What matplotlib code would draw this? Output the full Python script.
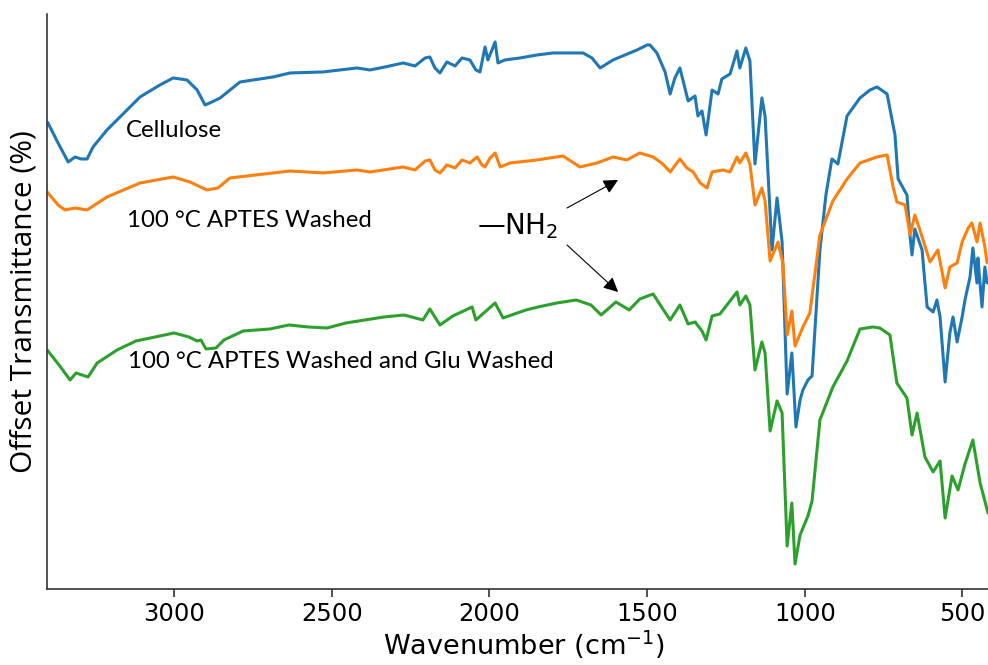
import matplotlib.pyplot as plt

# FTIR spectra (wavenumber in cm-1, offset transmittance)
cel_wn = [3400, 3368, 3336, 3314, 3295, 3276, 3257, 3213, 3108, 3045, 3003, 2959, 2927, 2902,
          2880, 2854, 2791, 2686, 2632, 2528, 2420, 2379, 2331, 2274, 2236, 2204, 2189, 2173,
          2157, 2135, 2109, 2087, 2062, 2043, 2030, 2014, 2005, 1992, 1982, 1973, 1951, 1903,
          1849, 1798, 1745, 1703, 1675, 1649, 1608, 1570, 1532, 1500, 1491, 1469, 1443, 1427,
          1412, 1396, 1370, 1348, 1339, 1326, 1313, 1294, 1275, 1263, 1237, 1215, 1206, 1187,
          1174, 1158, 1136, 1126, 1104, 1088, 1072, 1056, 1041, 1028, 1015, 1006, 990, 977,
          952, 933, 914, 895, 866, 825, 793, 771, 739, 714, 704, 676, 666, 660, 651, 628, 619,
          612, 593, 581, 571, 555, 540, 530, 517, 501, 492, 476, 467, 454, 451, 438, 429, 422, 400]
cel_t = [46.6, 44.6, 42.7, 43.2, 43.0, 43.0, 44.2, 45.9, 49.2, 50.4, 51.1, 50.9, 49.9, 48.4,
         48.7, 49.1, 50.7, 51.2, 51.6, 51.7, 52.1, 51.9, 52.2, 52.6, 52.3, 53.1, 53.2, 52.1,
         51.6, 52.7, 52.3, 53.1, 52.9, 51.9, 51.7, 54.2, 52.9, 53.9, 54.7, 52.6, 52.9, 53.1,
         53.4, 53.6, 53.6, 53.6, 53.1, 52.1, 52.9, 53.4, 53.9, 54.4, 54.4, 53.6, 51.7, 49.5,
         51.1, 52.1, 48.8, 49.3, 47.3, 47.8, 45.4, 49.9, 49.5, 51.0, 51.5, 53.8, 52.1, 54.1,
         52.8, 42.5, 49.1, 47.3, 33.9, 39.1, 34.7, 19.5, 23.6, 16.2, 18.9, 19.9, 20.9, 21.3,
         33.9, 39.4, 43.0, 42.5, 47.3, 49.1, 49.9, 50.2, 49.5, 45.4, 41.0, 39.4, 35.2, 33.4,
         36.0, 33.9, 30.6, 28.2, 27.7, 28.9, 27.2, 20.7, 25.6, 27.2, 24.7, 27.2, 28.9, 31.2,
         34.1, 30.6, 33.1, 28.2, 32.2, 30.6, 31.0]

aptes_wn = [3400, 3368, 3346, 3314, 3276, 3213, 3108, 3003, 2950, 2896, 2861, 2823, 2686, 2632,
            2528, 2420, 2379, 2274, 2236, 2204, 2189, 2173, 2157, 2135, 2109, 2087, 2062, 2039,
            2024, 2014, 1998, 1982, 1966, 1935, 1849, 1767, 1713, 1659, 1608, 1564, 1523, 1481,
            1450, 1427, 1396, 1374, 1354, 1332, 1310, 1294, 1259, 1237, 1215, 1206, 1187, 1174,
            1158, 1136, 1126, 1110, 1085, 1069, 1056, 1041, 1031, 1006, 984, 952, 911, 866, 825,
            771, 739, 720, 708, 682, 666, 651, 635, 603, 578, 555, 540, 517, 501, 482, 470, 454,
            444, 429, 422, 400]
aptes_t = [39.6, 38.4, 37.9, 38.1, 37.9, 39.2, 40.6, 41.2, 40.7, 39.9, 40.1, 41.1, 41.6, 41.8,
           41.6, 41.9, 41.7, 42.2, 41.9, 42.8, 42.9, 41.9, 41.6, 42.4, 42.1, 42.9, 42.6, 43.2,
           42.4, 42.2, 43.1, 43.6, 42.2, 42.6, 42.9, 43.3, 42.2, 42.6, 43.2, 42.9, 43.6, 43.2,
           42.5, 41.7, 43.0, 42.1, 41.7, 40.6, 40.1, 41.7, 41.9, 41.7, 43.2, 42.6, 43.6, 42.5,
           38.4, 40.1, 38.8, 32.8, 34.7, 32.5, 25.4, 27.8, 24.3, 26.2, 27.6, 35.4, 38.8, 41.0, 42.6,
           43.2, 43.4, 40.2, 38.7, 38.4, 35.4, 37.4, 35.9, 32.7, 33.9, 30.1, 32.2, 32.6, 34.7,
           36.1, 36.6, 34.7, 36.6, 34.2, 32.6, 33.0]

glu_wn = [3400, 3365, 3330, 3311, 3273, 3244, 3181, 3121, 3060, 3000, 2953, 2927, 2915, 2899,
          2867, 2842, 2781, 2696, 2636, 2575, 2515, 2455, 2395, 2334, 2271, 2211, 2189, 2157,
          2116, 2055, 2043, 1982, 1957, 1884, 1846, 1786, 1725, 1678, 1646, 1599, 1557, 1523,
          1481, 1450, 1427, 1396, 1370, 1348, 1326, 1313, 1294, 1269, 1247, 1215, 1206, 1187,
          1174, 1158, 1136, 1126, 1110, 1088, 1072, 1056, 1041, 1031, 1015, 990, 977, 952, 911,
          866, 825, 784, 762, 730, 708, 689, 676, 660, 644, 619, 593, 571, 555, 533, 514, 492,
          467, 444, 419, 400]
glu_t = [23.8, 22.4, 20.9, 21.6, 21.2, 22.6, 23.9, 24.8, 25.2, 25.6, 25.2, 24.8, 24.9, 24.0,
         24.1, 24.9, 25.8, 26.0, 26.4, 26.2, 26.1, 26.6, 26.9, 27.2, 27.4, 26.9, 28.0, 26.4,
         27.3, 28.2, 26.9, 28.6, 27.1, 27.9, 28.2, 28.6, 28.9, 28.4, 27.4, 28.7, 27.9, 29.0,
         29.5, 28.0, 26.9, 28.4, 26.5, 26.7, 25.8, 24.9, 27.3, 27.5, 28.4, 29.7, 28.4, 29.3,
         28.4, 21.9, 24.7, 23.6, 15.8, 18.8, 17.6, 4.3, 8.6, 2.5, 5.4, 7.3, 8.8, 16.9, 20.2,
         22.8, 26.0, 26.2, 26.1, 25.4, 20.6, 19.7, 19.1, 15.4, 17.6, 13.2, 11.7, 12.8, 7.1,
         11.3, 9.9, 12.5, 14.9, 10.6, 7.6, 7.5]

labels = ["Cellulose", "100 °C APTES Washed", "100 °C APTES Washed and Glu Washed"]
label_pos = [(3152, 45.8), (3149, 36.8), (3146, 22.7)]

fig = plt.figure(figsize=(9.88, 6.65), dpi=100)
ax = fig.add_axes([0.0476, 0.1143, 0.9524, 0.8647])

ax.plot(cel_wn, cel_t, color='tab:blue', lw=2.2)
ax.plot(aptes_wn, aptes_t, color='tab:orange', lw=2.2)
ax.plot(glu_wn, glu_t, color='tab:green', lw=2.2)

for txt, (x, y) in zip(labels, label_pos):
    ax.text(x, y, txt, fontsize=17.3, family='Lato', ha='left', va='center')

# NH2 marker with two arrows
ax.text(2039, 36.3, "\u2014NH$_2$", fontsize=20, ha='left', va='center')
arrow = dict(arrowstyle='-|>', color='black', lw=0.8, mutation_scale=22, shrinkA=0, shrinkB=0)
ax.annotate("", xy=(1592, 40.9), xytext=(1754, 38.1), arrowprops=arrow)
ax.annotate("", xy=(1592, 29.7), xytext=(1754, 34.4), arrowprops=arrow)

ax.set_xlim(3403, 419)
ax.set_ylim(0, 57.5)
ax.set_yticks([])
ax.set_xticks([3000, 2500, 2000, 1500, 1000, 500])
ax.tick_params(axis='x', labelsize=17.5, length=6, width=1.2, color='#333333')
ax.spines['top'].set_visible(False)
ax.spines['right'].set_visible(False)
for s in ['left', 'bottom']:
    ax.spines[s].set_linewidth(1.2)
    ax.spines[s].set_color('#333333')

ax.set_xlabel("Wavenumber (cm$^{-1}$)", fontsize=19.5)
ax.xaxis.set_label_coords(0.507, -0.068)
ax.set_ylabel("Offset Transmittance (%)", fontsize=21.5, family='Open Sans')
ax.yaxis.set_label_coords(-0.009, 0.5)

fig.savefig("out.png", dpi=100)
